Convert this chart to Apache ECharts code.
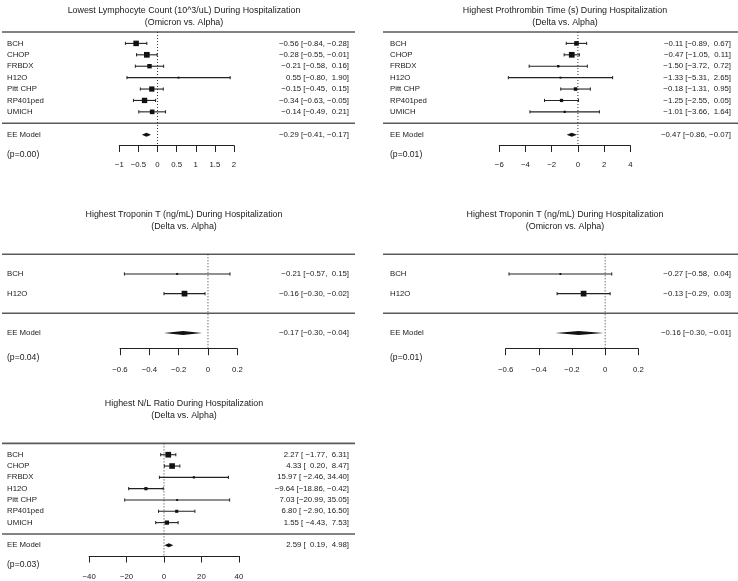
<!DOCTYPE html>
<html><head><meta charset="utf-8">
<script src="https://cdn.jsdelivr.net/npm/echarts@6/dist/echarts.min.js"></script>
<style>html,body{margin:0;padding:0;background:#fff}#c{width:738px;height:581px}</style>
</head><body><div id="c"></div>
<script>
// ---------------- data ----------------
const studies7 = ['BCH','CHOP','FRBDX','H12O','Pitt CHP','RP401ped','UMICH'];
const studies2 = ['BCH','H12O'];
const modelLabel = 'EE Model';

const lymphTitle = ['Lowest Lymphocyte Count (10^3/uL) During Hospitalization','(Omicron vs. Alpha)'];
const lymphEst   = [-0.56,-0.28,-0.21, 0.55,-0.15,-0.34,-0.14];
const lymphLower = [-0.84,-0.55,-0.58,-0.80,-0.45,-0.63,-0.49];
const lymphUpper = [-0.28,-0.01, 0.16, 1.90, 0.15,-0.05, 0.21];
const lymphModel = [-0.29,-0.41,-0.17];
const lymphP = '0.00';
const lymphTicks = [-1,-0.5,0,0.5,1,1.5,2];

const ptTitle = ['Highest Prothrombin Time (s) During Hospitalization','(Delta vs. Alpha)'];
const ptEst   = [-0.11,-0.47,-1.50,-1.33,-0.18,-1.25,-1.01];
const ptLower = [-0.89,-1.05,-3.72,-5.31,-1.31,-2.55,-3.66];
const ptUpper = [ 0.67, 0.11, 0.72, 2.65, 0.95, 0.05, 1.64];
const ptModel = [-0.47,-0.86,-0.07];
const ptP = '0.01';
const ptTicks = [-6,-4,-2,0,2,4];

const tropDTitle = ['Highest Troponin T (ng/mL) During Hospitalization','(Delta vs. Alpha)'];
const tropDEst   = [-0.21,-0.16];
const tropDLower = [-0.57,-0.30];
const tropDUpper = [ 0.15,-0.02];
const tropDModel = [-0.17,-0.30,-0.04];
const tropDP = '0.04';
const tropTicks = [-0.6,-0.4,-0.2,0,0.2];

const tropOTitle = ['Highest Troponin T (ng/mL) During Hospitalization','(Omicron vs. Alpha)'];
const tropOEst   = [-0.27,-0.13];
const tropOLower = [-0.58,-0.29];
const tropOUpper = [ 0.04, 0.03];
const tropOModel = [-0.16,-0.30,-0.01];
const tropOP = '0.01';

const nlTitle = ['Highest N/L Ratio During Hospitalization','(Delta vs. Alpha)'];
const nlEst   = [ 2.27, 4.33,15.97, -9.64,  7.03, 6.80, 1.55];
const nlLower = [-1.77, 0.20,-2.46,-18.86,-20.99,-2.90,-4.43];
const nlUpper = [ 6.31, 8.47,34.40, -0.42, 35.05,16.50, 7.53];
const nlModel = [2.59,0.19,4.98];
const nlP = '0.03';
const nlTicks = [-40,-20,0,20,40];

// ---------------- layout (geometry only) ----------------
const layouts = [
  {left:119.3, width:114.7, top:32,    height:113.5, ymin:-1.95, ruleL:2,   ruleR:355, nameX:7,   annX:349, titleX:184, titleY:5,   lm:15},
  {left:499.3, width:131,   top:32,    height:113.5, ymin:-1.95, ruleL:383, ruleR:738, nameX:390, annX:731, titleX:565, titleY:5,   lm:15},
  {left:120,   width:117.3, top:254.3, height:94.4,  ymin:-1.8,  ruleL:2,   ruleR:355, nameX:7,   annX:349, titleX:184, titleY:209, lm:17},
  {left:505.7, width:132.6, top:254.3, height:94.4,  ymin:-1.8,  ruleL:383, ruleR:738, nameX:390, annX:731, titleX:565, titleY:209, lm:17},
  {left:89.1,  width:149.8, top:443.4, height:112.6, ymin:-1.95, ruleL:2,   ruleR:355, nameX:7,   annX:349, titleX:184, titleY:398, lm:17}
];

const panels = [
  {title:lymphTitle, names:studies7, est:lymphEst, lo:lymphLower, hi:lymphUpper, model:lymphModel, p:lymphP, ticks:lymphTicks},
  {title:ptTitle,    names:studies7, est:ptEst,    lo:ptLower,    hi:ptUpper,    model:ptModel,    p:ptP,    ticks:ptTicks},
  {title:tropDTitle, names:studies2, est:tropDEst, lo:tropDLower, hi:tropDUpper, model:tropDModel, p:tropDP, ticks:tropTicks},
  {title:tropOTitle, names:studies2, est:tropOEst, lo:tropOLower, hi:tropOUpper, model:tropOModel, p:tropOP, ticks:tropTicks},
  {title:nlTitle,    names:studies7, est:nlEst,    lo:nlLower,    hi:nlUpper,    model:nlModel,    p:nlP,    ticks:nlTicks}
];

// ---------------- helpers ----------------
const FONT = '"Liberation Sans", Arial, Helvetica, sans-serif';
const TXT = '#1a1a1a';
const LBL = 7.8, TTL = 8.9;
const minus = s => s.replace(/-/g, '\u2212');
const fmt = v => minus(v.toFixed(2));
const padL = (s, w) => ' '.repeat(Math.max(0, w - s.length)) + s;
function annotations(P) {
  const E = P.est.concat([P.model[0]]).map(fmt);
  const L = P.lo.concat([P.model[1]]).map(fmt);
  const U = P.hi.concat([P.model[2]]).map(fmt);
  const we = Math.max(...E.map(s=>s.length)), wl = Math.max(...L.map(s=>s.length)), wu = Math.max(...U.map(s=>s.length));
  return E.map((e,i) => padL(e,we) + ' [' + padL(L[i],wl) + ', ' + padL(U[i],wu) + ']');
}
function squareSizes(P) {
  // metafor-style: weights 1/se, rescaled to 0.5..1.5
  const w = P.lo.map((l,i) => 1/((P.hi[i]-l)/3.92));
  const mn = Math.min(...w), mx = Math.max(...w);
  return w.map(v => (mx > mn ? (v-mn)/(mx-mn) : 1) + 0.5);
}

const grids = [], xAxes = [], yAxes = [], series = [], titles = [];
panels.forEach((P, i) => {
  const G = layouts[i];
  const k = P.names.length;
  const ann = annotations(P);
  const ps = squareSizes(P);
  grids.push({left:G.left, width:G.width, top:G.top, height:G.height, containLabel:false, outerBoundsMode:'none'});
  xAxes.push({
    type:'value', gridIndex:i, min:P.ticks[0], max:P.ticks[P.ticks.length-1],
    position:'bottom',
    axisLine:{show:true, onZero:false, lineStyle:{color:'#222', width:1}},
    axisTick:{show:true, inside:false, length:6.5, customValues:P.ticks, lineStyle:{color:'#222', width:1}},
    axisLabel:{show:true, customValues:P.ticks, margin:G.lm, fontSize:LBL, fontFamily:FONT, color:TXT,
      formatter: v => minus(String(+(+v).toFixed(6)))},
    splitLine:{show:false}
  });
  yAxes.push({type:'value', gridIndex:i, min:G.ymin, max:k+1, show:false});
  titles.push({
    text: P.title.join('\n'), left:G.titleX, top:G.titleY, textAlign:'center', padding:0,
    textStyle:{fontSize:TTL, fontWeight:'normal', fontFamily:FONT, color:TXT, lineHeight:12}
  });

  // frame: rules, zero reference line, p-value
  series.push({
    type:'custom', xAxisIndex:i, yAxisIndex:i, clip:false, silent:true, z:1,
    data:[[0, k+1, 0, G.ymin]],
    renderItem:(params, api) => {
      const top = api.coord([api.value(0), api.value(1)]);
      const bot = api.coord([api.value(0), api.value(2)]);
      const ax  = api.coord([api.value(0), api.value(3)]);
      return {type:'group', children:[
        {type:'line', shape:{x1:G.ruleL, y1:top[1], x2:G.ruleR, y2:top[1]}, style:{stroke:'#5a5a5a', lineWidth:1.6}},
        {type:'line', shape:{x1:G.ruleL, y1:bot[1], x2:G.ruleR, y2:bot[1]}, style:{stroke:'#5a5a5a', lineWidth:1.6}},
        {type:'line', shape:{x1:top[0], y1:top[1], x2:ax[0], y2:ax[1]}, style:{stroke:'#333', lineWidth:1, lineDash:[1,2]}},
        {type:'text', style:{text:'(p=' + P.p + ')', x:G.nameX, y:ax[1]+9, align:'left', verticalAlign:'middle',
          fontSize:8.6, fontFamily:FONT, fill:TXT}}
      ]};
    }
  });

  // study rows: CI line with caps and weighted square
  series.push({
    type:'custom', xAxisIndex:i, yAxisIndex:i, clip:false, silent:true, z:3,
    data: P.names.map((n,j) => [P.est[j], P.lo[j], P.hi[j], k-j, ps[j]]),
    renderItem:(params, api) => {
      const r = api.value(3);
      const pe = api.coord([api.value(0), r]);
      const pl = api.coord([api.value(1), r]);
      const ph = api.coord([api.value(2), r]);
      const s = api.value(4) * 3.8;
      return {type:'group', children:[
        {type:'line', shape:{x1:pl[0], y1:pl[1], x2:ph[0], y2:ph[1]}, style:{stroke:'#222', lineWidth:1.1}},
        {type:'line', shape:{x1:pl[0], y1:pl[1]-1.6, x2:pl[0], y2:pl[1]+1.6}, style:{stroke:'#222', lineWidth:1}},
        {type:'line', shape:{x1:ph[0], y1:ph[1]-1.6, x2:ph[0], y2:ph[1]+1.6}, style:{stroke:'#222', lineWidth:1}},
        {type:'rect', shape:{x:pe[0]-s/2, y:pe[1]-s/2, width:s, height:s}, style:{fill:'#111'}}
      ]};
    }
  });

  // summary diamond
  series.push({
    type:'custom', xAxisIndex:i, yAxisIndex:i, clip:false, silent:true, z:3,
    data:[[P.model[0], P.model[1], P.model[2], -1]],
    renderItem:(params, api) => {
      const r = api.value(3);
      const pe = api.coord([api.value(0), r]);
      const pl = api.coord([api.value(1), r]);
      const ph = api.coord([api.value(2), r]);
      return {type:'polygon', shape:{points:[[pl[0],pl[1]],[pe[0],pe[1]-2],[ph[0],ph[1]],[pe[0],pe[1]+2]]}, style:{fill:'#111'}};
    }
  });

  // labels: study names and annotations
  const labelRows = P.names.map((n,j) => [k-j, n, ann[j]]).concat([[-1, modelLabel, ann[k]]]);
  series.push({
    type:'custom', xAxisIndex:i, yAxisIndex:i, clip:false, silent:true, z:4,
    data: labelRows.map(d => [0, d[0]]),
    renderItem:(params, api) => {
      const d = labelRows[params.dataIndex];
      const p = api.coord([0, api.value(1)]);
      return {type:'group', children:[
        {type:'text', style:{text:d[1], x:G.nameX, y:p[1], align:'left', verticalAlign:'middle', fontSize:LBL, fontFamily:FONT, fill:TXT}},
        {type:'text', style:{text:d[2], x:G.annX, y:p[1], align:'right', verticalAlign:'middle', fontSize:LBL, fontFamily:FONT, fill:TXT}}
      ]};
    }
  });
});

const chart = echarts.init(document.getElementById('c'), null, {renderer:'canvas'});
chart.setOption({
  animation:false, backgroundColor:'#fff',
  title:titles, grid:grids, xAxis:xAxes, yAxis:yAxes, series:series
});
</script></body></html>
